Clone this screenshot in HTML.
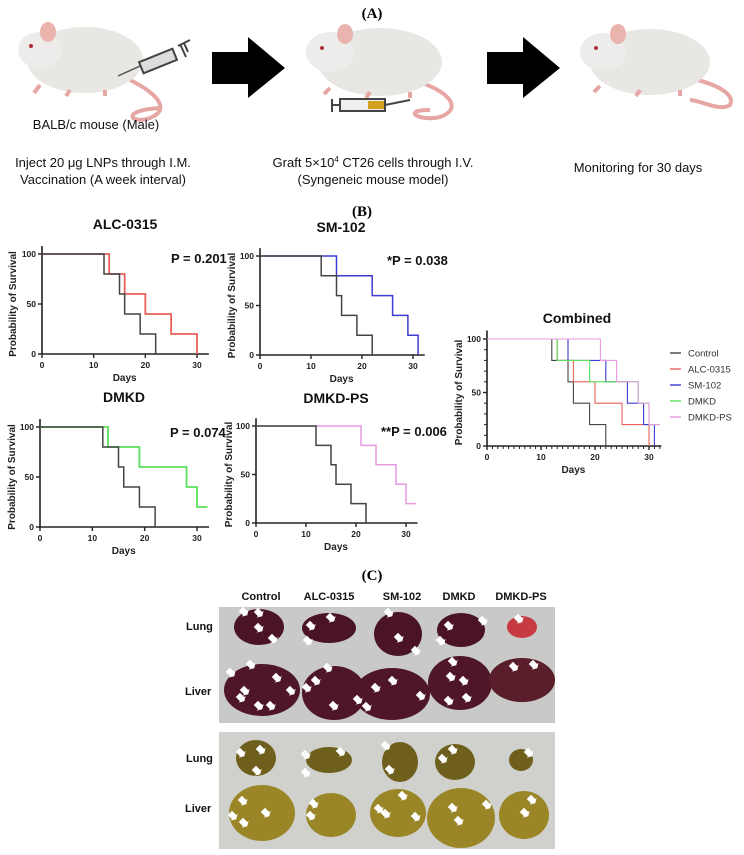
<!DOCTYPE html>
<html><head><meta charset="utf-8"><style>
html,body{margin:0;padding:0;background:#fff}
svg{display:block}
text{font-family:"Liberation Sans",sans-serif}
</style></head><body>
<svg id="fig" width="744" height="855" viewBox="0 0 744 855" xmlns="http://www.w3.org/2000/svg">
<!-- Panel A -->
<text x="372" y="18" text-anchor="middle" font-family="Liberation Serif,serif" font-weight="bold" font-size="15" style="font-family:'Liberation Serif',serif">(A)</text>
<g>
 <path d="M130,80 C160,95 170,110 150,118 C130,125 120,110 160,108" fill="none" stroke="#e6a7a4" stroke-width="4"/>
 <ellipse cx="85" cy="60" rx="58" ry="33" fill="#e9e7e4"/>
 <ellipse cx="40" cy="50" rx="22" ry="18" fill="#eeecea"/>
 <ellipse cx="48" cy="32" rx="8" ry="10" fill="#e9b3ae"/>
 <circle cx="31" cy="46" r="2" fill="#b0303a"/>
 <path d="M40,85 l-6,8 M70,90 l-4,6 M105,90 l0,6" stroke="#e6a7a4" stroke-width="4"/>
</g>
<g>
 <path d="M118,76 L140,66" stroke="#555" stroke-width="1.5"/>
 <rect x="140" y="55" width="36" height="12" fill="#ddd" stroke="#444" stroke-width="2" transform="rotate(-22 158 61)"/>
 <path d="M178,46 L190,40 M184,43 L188,52 M180,44 L186,57" stroke="#444" stroke-width="2"/>
</g>
<polygon points="212,52 248,52 248,37 285,68 248,98 248,84 212,84" fill="#000"/>
<g>
 <path d="M420,82 C455,95 460,110 440,117 C420,122 400,110 430,110" fill="none" stroke="#e6a7a4" stroke-width="4"/>
 <ellipse cx="380" cy="62" rx="62" ry="34" fill="#e9e7e4"/>
 <ellipse cx="330" cy="52" rx="24" ry="20" fill="#eeecea"/>
 <ellipse cx="345" cy="34" rx="8" ry="10" fill="#e9b3ae"/>
 <circle cx="322" cy="48" r="2" fill="#b0303a"/>
 <path d="M330,88 l-6,6 M370,92 l-4,6 M410,92 l0,6" stroke="#e6a7a4" stroke-width="4"/>
</g>
<g>
 <rect x="340" y="99" width="45" height="12" fill="#eee" stroke="#444" stroke-width="2"/>
 <rect x="368" y="101" width="16" height="8" fill="#d4a020"/>
 <path d="M385,105 L410,100 M332,99 L332,112 M332,105 L340,105" stroke="#444" stroke-width="2"/>
</g>
<polygon points="487,52 523,52 523,37 560,68 523,98 523,84 487,84" fill="#000"/>
<g>
 <path d="M690,78 C720,85 735,95 730,105 C720,112 700,100 690,100" fill="none" stroke="#e6a7a4" stroke-width="4"/>
 <ellipse cx="650" cy="62" rx="60" ry="33" fill="#e9e7e4"/>
 <ellipse cx="603" cy="52" rx="23" ry="19" fill="#eeecea"/>
 <ellipse cx="618" cy="34" rx="8" ry="10" fill="#e9b3ae"/>
 <circle cx="596" cy="48" r="2" fill="#b0303a"/>
 <path d="M600,86 l-6,6 M640,90 l-4,6 M680,90 l0,6" stroke="#e6a7a4" stroke-width="4"/>
</g>
<g font-size="13" fill="#111" text-anchor="middle">
 <text x="96" y="129">BALB/c mouse (Male)</text>
 <text x="103" y="167">Inject 20 μg LNPs through I.M.</text>
 <text x="103" y="184">Vaccination (A week interval)</text>
 <text x="373" y="167">Graft 5×10<tspan font-size="8" dy="-5">4</tspan><tspan dy="5"> CT26 cells through I.V.</tspan></text>
 <text x="373" y="184">(Syngeneic mouse model)</text>
 <text x="638" y="172">Monitoring for 30 days</text>
</g>
<text x="362" y="216" text-anchor="middle" font-weight="bold" font-size="15" style="font-family:'Liberation Serif',serif">(B)</text>
<g id="charts"></g>
<!-- Panel C -->
<text x="372" y="580" text-anchor="middle" font-weight="bold" font-size="15" style="font-family:'Liberation Serif',serif">(C)</text>
<g font-weight="bold" font-size="11" text-anchor="middle" fill="#111">
 <text x="261" y="600">Control</text>
 <text x="329" y="600">ALC-0315</text>
 <text x="402" y="600">SM-102</text>
 <text x="459" y="600">DMKD</text>
 <text x="521" y="600">DMKD-PS</text>
</g>
<g font-weight="bold" font-size="11" fill="#111">
 <text x="186" y="630">Lung</text>
 <text x="185" y="695">Liver</text>
 <text x="186" y="762">Lung</text>
 <text x="185" y="812">Liver</text>
</g>
<rect x="219" y="607" width="336" height="116" fill="#c9c9c8"/>
<rect x="219" y="732" width="336" height="117" fill="#d0d0cd"/>
<g id="organs"></g>
</svg>
<script>
const NS='http://www.w3.org/2000/svg';
// ---- chart data ----
const days=[0,10,20,30];
const yTicks=[0,50,100];
const controlT=[0,12,15,16,19,22];
const controlS=[100,80,60,40,20,0];
const alcT=[0,13,16,20,25,30];
const alcS=[100,80,60,40,20,0];
const smT=[0,15,22,26,29,31];
const smS=[100,80,60,40,20,0];
const dmkdT=[0,13,19,28,30,32];
const dmkdS=[100,80,60,40,20,20];
const psT=[0,21,24,28,30,32];
const psS=[100,80,60,40,20,20];
const legendLabels=['Control','ALC-0315','SM-102','DMKD','DMKD-PS'];

function mk(tag,attrs,parent){const e=document.createElementNS(NS,tag);for(const k in attrs)e.setAttribute(k,attrs[k]);parent.appendChild(e);return e;}
const root=document.getElementById('charts');

function stepPath(T,S,sx,sy){let d='M'+sx(T[0])+','+sy(S[0]);for(let i=1;i<T.length;i++){d+=' H'+sx(T[i])+' V'+sy(S[i]);}return d;}

function panel(name,p){
 const g=mk('g',{},root);
 
 
 const sx=d=>p.x0+(p.x30-p.x0)*d/30;
 const sy=v=>p.y0-(p.y0-p.y100)*v/100;
 const ax=mk('path',{d:'M'+p.x0+','+(sy(108))+' V'+p.y0+' H'+sx(32.3),stroke:'#222','stroke-width':1.6,fill:'none'},g);
 
 
 yTicks.forEach(v=>{
  mk('line',{x1:p.x0-4,x2:p.x0,y1:sy(v),y2:sy(v),stroke:'#222','stroke-width':1.4},g);
  const t=mk('text',{x:p.x0-6,y:sy(v)+3,'text-anchor':'end','font-size':8.5,'font-weight':'bold',fill:'#222'},g);
  t.textContent=v;
  
  
 });
 if(p.minor){
  for(let d=1;d<=32;d++) mk('line',{x1:sx(d),x2:sx(d),y1:p.y0,y2:p.y0+3,stroke:'#222','stroke-width':1},g);
  for(let v=10;v<=100;v+=10) mk('line',{x1:p.x0-3,x2:p.x0,y1:sy(v),y2:sy(v),stroke:'#222','stroke-width':1},g);
 }
 days.forEach(d=>{
  mk('line',{x1:sx(d),x2:sx(d),y1:p.y0,y2:p.y0+4,stroke:'#222','stroke-width':1.4},g);
  const t=mk('text',{x:sx(d),y:p.y0+14,'text-anchor':'middle','font-size':8.5,'font-weight':'bold',fill:'#222'},g);
  t.textContent=d;
  
  
 });
 const xl=mk('text',{x:(p.x0+sx(32))/2,y:p.y0+27,'text-anchor':'middle','font-size':10,'font-weight':'bold',fill:'#222'},g);
 xl.textContent='Days';
 
 
 const yx=p.ytx, yy=(p.y0+p.y100)/2;
 const yl=mk('text',{x:yx,y:yy,'text-anchor':'middle','font-size':10,'font-weight':'bold',fill:'#222',transform:'rotate(-90 '+yx+' '+yy+')'},g);
 yl.textContent='Probability of Survival';
 
 
 const tt=mk('text',{x:p.tx,y:p.ty,'text-anchor':'middle','font-size':14,'font-weight':'bold',fill:'#111'},g);
 tt.textContent=p.title;
 
 
 if(p.pval){
  const pv=mk('text',{x:p.px,y:p.py,'font-size':13,'font-weight':'bold',fill:'#111'},g);
  pv.textContent=p.pval;
  
  
 }
 p.series.forEach(s=>{
  const l=mk('path',{d:stepPath(s.T,s.S,sx,sy),stroke:s.c,'stroke-width':s.w||1.5,fill:'none'},g);
  
  
 });
 return g;
}
const cCtl='#444',cAlc='#e8605a',cSm='#3c3cd0',cDm='#5ae05a',cPs='#e89ae0';
panel('alc0315',{x0:42,x30:197,y0:354,y100:254,ytx:16,tx:125,ty:229,title:'ALC-0315',pval:'P = 0.201',px:171,py:263,
 series:[{T:alcT,S:alcS,c:cAlc,n:'alc0315',w:1.8},{T:controlT,S:controlS,c:cCtl,n:'control'}]});
panel('sm102',{x0:260,x30:413,y0:355,y100:256,ytx:235,tx:341,ty:232,title:'SM-102',pval:'*P = 0.038',px:387,py:265,
 series:[{T:smT,S:smS,c:cSm,n:'sm102'},{T:controlT,S:controlS,c:cCtl,n:'control'}]});
panel('dmkd',{x0:40,x30:197,y0:527,y100:427,ytx:15,tx:124,ty:402,title:'DMKD',pval:'P = 0.074',px:170,py:437,
 series:[{T:dmkdT,S:dmkdS,c:cDm,n:'dmkd',w:1.8},{T:controlT,S:controlS,c:cCtl,n:'control'}]});
panel('dmkdps',{x0:256,x30:406,y0:523,y100:426,ytx:232,tx:336,ty:403,title:'DMKD-PS',pval:'**P = 0.006',px:381,py:436,
 series:[{T:psT,S:psS,c:cPs,n:'dmkdps'},{T:controlT,S:controlS,c:cCtl,n:'control'}]});
const comb=panel('combined',{x0:487,x30:649,y0:446,y100:339,ytx:462,tx:577,ty:323,title:'Combined',minor:true,
 series:[{T:controlT,S:controlS,c:cCtl,n:'control',w:1.1},{T:alcT,S:alcS,c:cAlc,n:'alc0315',w:1.1},{T:smT,S:smS,c:cSm,n:'sm102',w:1.1},{T:dmkdT,S:dmkdS,c:cDm,n:'dmkd',w:1.1},{T:psT,S:psS,c:cPs,n:'dmkdps',w:1.1}]});
const lcols=[cCtl,cAlc,cSm,cDm,cPs];
legendLabels.forEach((lab,i)=>{
 const y=353+i*16;
 const lg=mk('g',{},comb);
 
 
 mk('line',{x1:670,x2:681,y1:y,y2:y,stroke:lcols[i],'stroke-width':1.4},lg);
 const t=mk('text',{x:688,y:y+3.5,'font-size':9.5,fill:'#333'},lg);
 t.textContent=lab;
});

// ---- organs ----
const og=document.getElementById('organs');
function blob(cx,cy,rx,ry,fill,name){
 const e=mk('ellipse',{cx:cx,cy:cy,rx:rx,ry:ry,fill:fill},og);
 
 
}
function arrowAt(x,y){mk('path',{d:'M'+(x-3)+','+(y-3)+' l6,0 l0,-2 l3,5 l-3,5 l0,-2 l-6,0 z',fill:'#fff',transform:'rotate(45 '+x+' '+y+')'},og);}
[[259,627,25,18],[329,628,27,15],[398,634,24,22],[461,630,24,17],[522,627,15,11]].forEach((b,i)=>blob(b[0],b[1],b[2],b[3],i==4?'#c63a42':'#4a1424','lung-stained-'+i));
[[262,690,38,26],[334,693,32,27],[392,694,38,26],[460,683,32,27],[522,680,33,22]].forEach((b,i)=>blob(b[0],b[1],b[2],b[3],i==4?'#5a1d2a':'#4e1626','liver-stained-'+i));
[[256,758,20,18],[329,760,23,13],[400,762,18,20],[455,762,20,18],[521,760,12,11]].forEach((b,i)=>blob(b[0],b[1],b[2],b[3],'#6f5f1c','lung-fixed-'+i));
[[262,813,33,28],[331,815,25,22],[398,813,28,24],[461,818,34,30],[524,815,25,24]].forEach((b,i)=>blob(b[0],b[1],b[2],b[3],'#9a8626','liver-fixed-'+i));
[[243,611],[258,612],[258,627],[272,638],[310,625],[307,640],[330,617],[388,612],[398,637],[415,650],[448,625],[440,640],[482,620],[518,618],
 [230,672],[250,664],[244,690],[240,697],[276,677],[290,690],[258,705],[270,705],[306,687],[315,680],[327,667],[333,705],[357,699],[366,706],[375,687],[392,680],[420,695],[452,661],[450,676],[448,700],[463,680],[466,697],[513,666],[533,664],
 [240,752],[260,749],[256,770],[305,754],[305,772],[340,751],[385,745],[389,769],[442,758],[452,749],[528,752],
 [242,800],[232,815],[243,822],[265,812],[313,803],[310,815],[378,808],[385,813],[402,795],[415,816],[452,807],[458,820],[486,804],[531,799],[524,812]].forEach(a=>arrowAt(a[0],a[1]));
</script>
</body></html>
